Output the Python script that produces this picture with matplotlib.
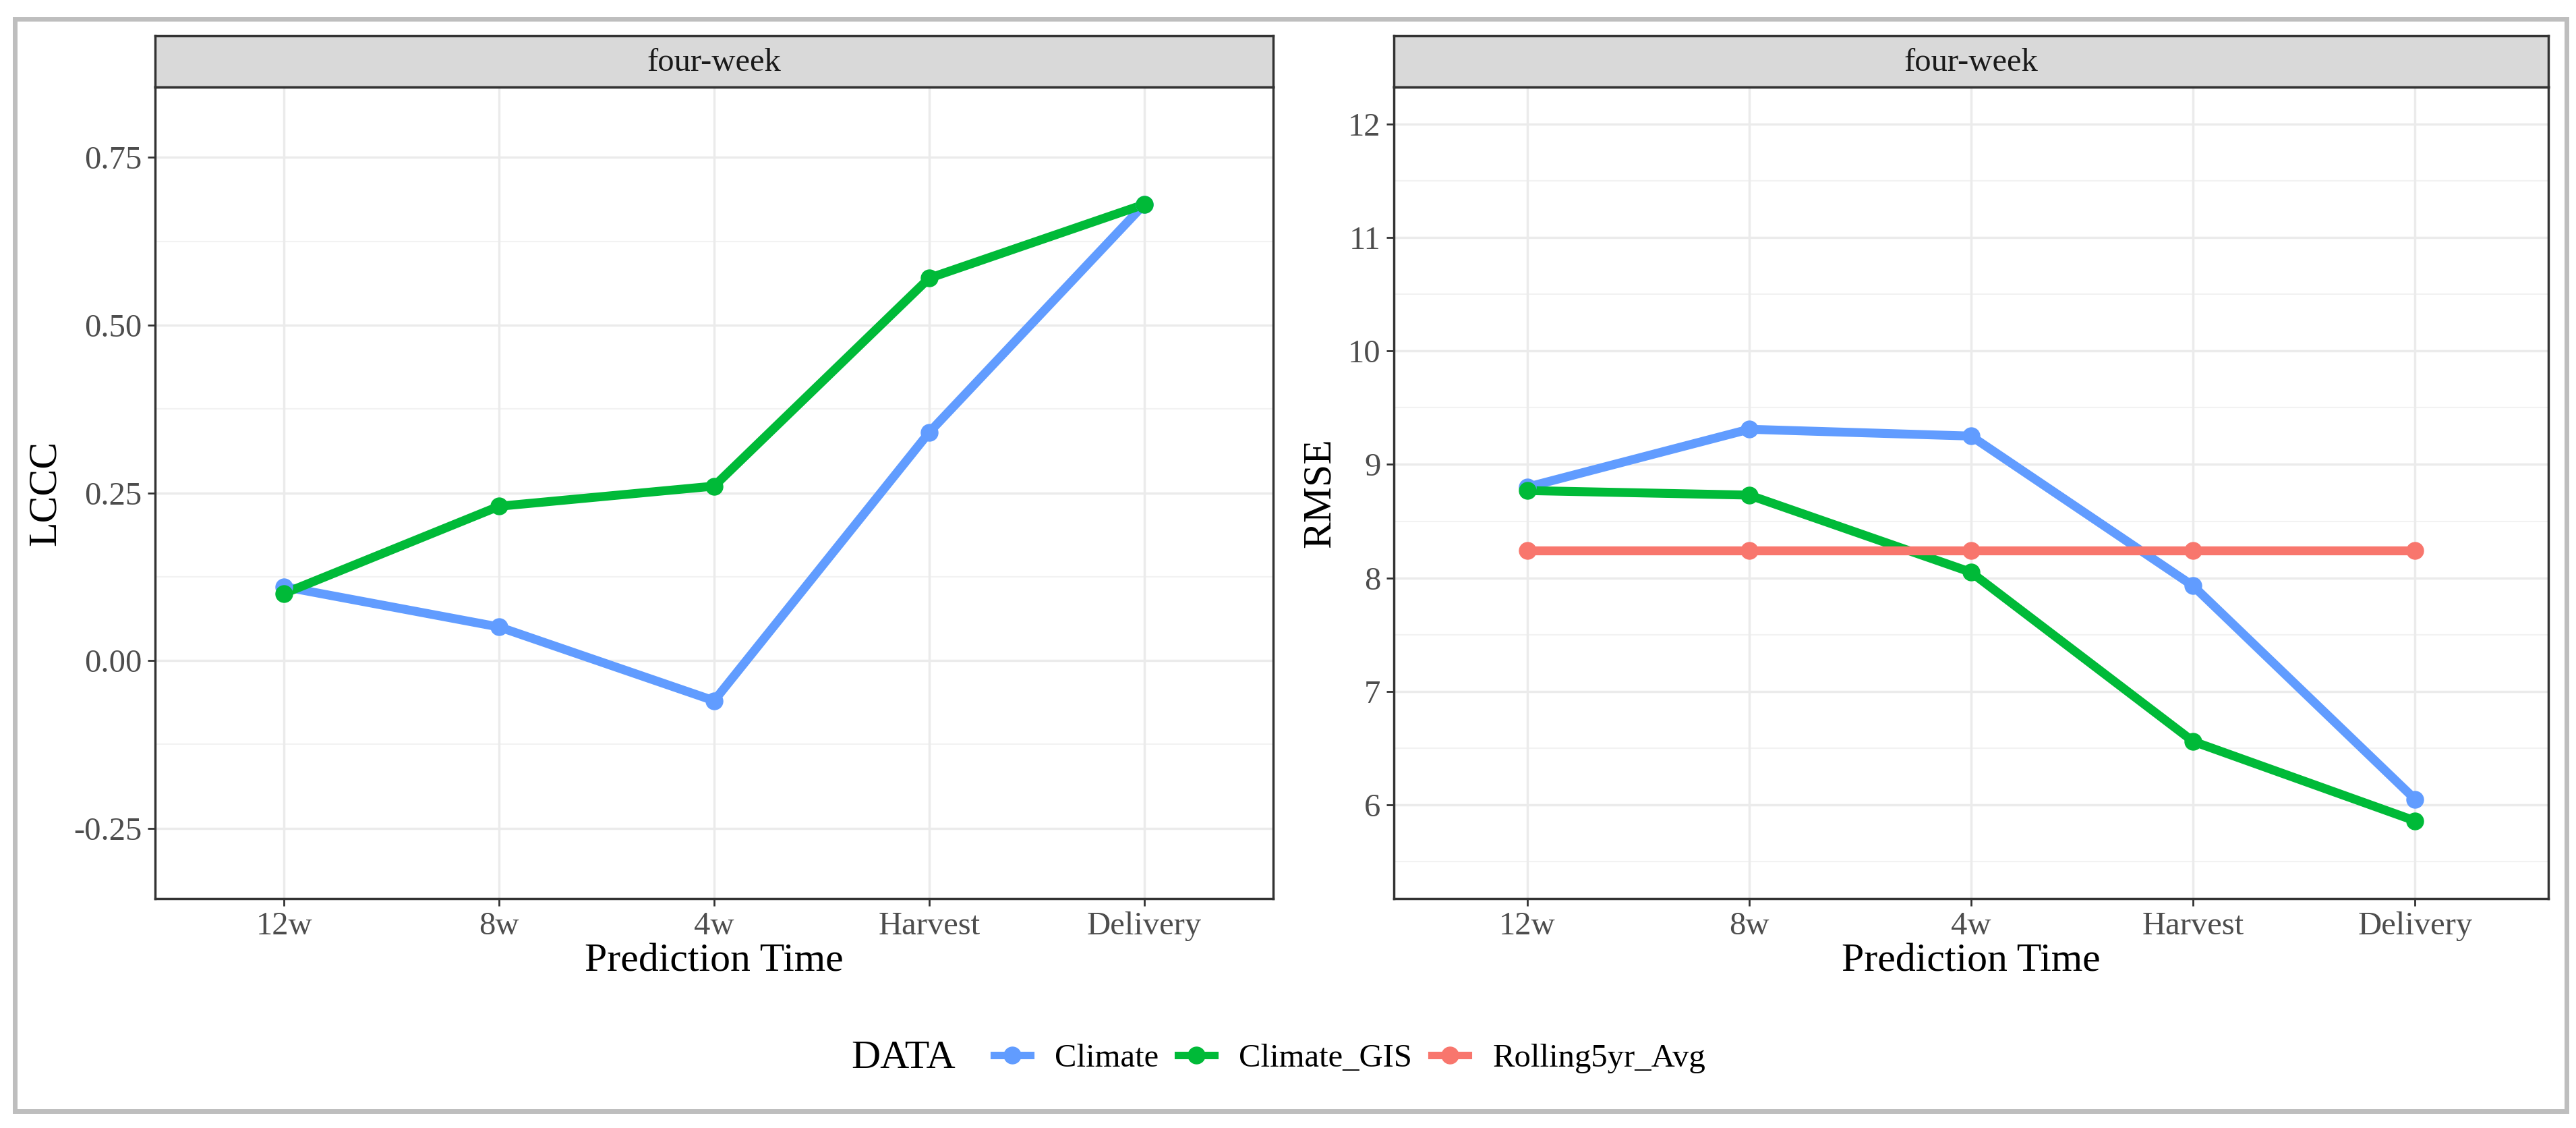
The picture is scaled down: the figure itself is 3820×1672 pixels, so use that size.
import matplotlib
matplotlib.use('Agg')
import matplotlib.pyplot as plt
from matplotlib.patches import Rectangle
from matplotlib.lines import Line2D

plt.rcParams['font.family'] = ['Liberation Serif', 'DejaVu Serif']

# data
times = ['12w', '8w', '4w', 'Harvest', 'Delivery']
lccc_climate = [0.11, 0.05, -0.06, 0.34, 0.68]
lccc_climate_gis = [0.10, 0.23, 0.26, 0.57, 0.68]
rmse_climate = [8.80, 9.31, 9.25, 7.93, 6.05]
rmse_climate_gis = [8.77, 8.73, 8.05, 6.56, 5.86]
rmse_rolling = [8.24, 8.24, 8.24, 8.24, 8.24]
lccc_ticks = [-0.25, 0.0, 0.25, 0.50, 0.75]
rmse_ticks = [6, 7, 8, 9, 10, 11, 12]

colors = {'Climate': '#619CFF', 'Climate_GIS': '#00BA38', 'Rolling5yr_Avg': '#F8766D'}

W, H = 3820, 1672
fig = plt.figure(figsize=(W / 100, H / 100), dpi=100)


def px_axes(x0, y0, x1, y1):
    # pixel box (top-left origin) -> figure fraction axes
    return fig.add_axes([x0 / W, 1 - y1 / H, (x1 - x0) / W, (y1 - y0) / H])


# outer grey frame
fig.patches.append(Rectangle((22 / W, 1 - 1647 / H), (3806 - 22) / W, (1647 - 28) / H,
                             transform=fig.transFigure, fill=False,
                             edgecolor='#BEBEBE', linewidth=5))

panels = [
    dict(x0=230, x1=1888, ylabel='LCCC', ylim=(-0.3, 0.8), ticks=lccc_ticks,
         fmt='{:.2f}', series=[('Climate', lccc_climate), ('Climate_GIS', lccc_climate_gis)],
         ylab_x=68),
    dict(x0=2067, x1=3779, ylabel='RMSE', ylim=(5.5, 12), ticks=rmse_ticks,
         fmt='{:d}', series=[('Climate', rmse_climate), ('Climate_GIS', rmse_climate_gis),
                             ('Rolling5yr_Avg', rmse_rolling)],
         ylab_x=1958),
]

y_strip_top, y_top, y_bot = 53, 129, 1332
xs = list(range(len(times)))

for p in panels:
    ax = px_axes(p['x0'], y_top, p['x1'], y_bot)
    lo, hi = p['ylim']
    pad = (hi - lo) * 0.05
    ax.set_ylim(lo - pad, hi + pad)
    ax.set_xlim(-0.6, len(times) - 0.4)

    # grid like theme_bw
    major = p['ticks']
    step = major[1] - major[0]
    minor = [m + step / 2 for m in [major[0] - step] + major]
    for m in minor:
        ax.axhline(m, color='#F2F2F2', linewidth=1.5, zorder=0)
    for m in major:
        ax.axhline(m, color='#EBEBEB', linewidth=2.5, zorder=0)
    for x in xs:
        ax.axvline(x, color='#EBEBEB', linewidth=2.5, zorder=0)

    # lines first, then points on top (ggplot layer order)
    for name, vals in p['series']:
        ax.plot(xs, vals, color=colors[name], linewidth=9.5, solid_joinstyle='round', zorder=3)
    for name, vals in p['series']:
        ax.plot(xs, vals, color=colors[name], linestyle='none', marker='o',
                markersize=18, zorder=4)

    ax.set_xticks(xs)
    ax.set_xticklabels(times)
    ax.set_yticks(major)
    ax.set_yticklabels([p['fmt'].format(v) for v in major])
    ax.tick_params(axis='both', labelsize=35, colors='#333333', labelcolor='#4D4D4D',
                   length=8, width=2, pad=6)
    for s in ax.spines.values():
        s.set_color('#333333')
        s.set_linewidth(2.5)
    ax.set_xlabel('Prediction Time', fontsize=43, color='black', labelpad=2)
    fig.text(p['ylab_x'] / W, 1 - ((y_top + y_bot) / 2) / H, p['ylabel'],
             rotation=90, fontsize=43, ha='center', va='center')

    # facet strip
    sax = px_axes(p['x0'], y_strip_top, p['x1'], y_top)
    sax.set_facecolor('#D9D9D9')
    sax.set_xticks([])
    sax.set_yticks([])
    for s in sax.spines.values():
        s.set_color('#333333')
        s.set_linewidth(2.5)
    sax.text(0.5, 0.47, 'four-week', transform=sax.transAxes, ha='center', va='center',
             fontsize=35, color='#1A1A1A')

# legend at the bottom, title on the left
handles = [Line2D([], [], color=colors[n], linewidth=8, marker='o', markersize=18)
           for n in colors]
fig.text(1262 / W, 1 - 1569 / H, 'DATA', fontsize=43, ha='left', va='center')
fig.legend(handles, list(colors), loc='center left', ncol=3,
           bbox_to_anchor=(1440 / W, 1 - 1569 / H), frameon=False, fontsize=35,
           handlelength=1.1, handletextpad=0.75, columnspacing=0.6, borderpad=0.2)

fig.savefig('out.png', dpi=100, facecolor='white')
